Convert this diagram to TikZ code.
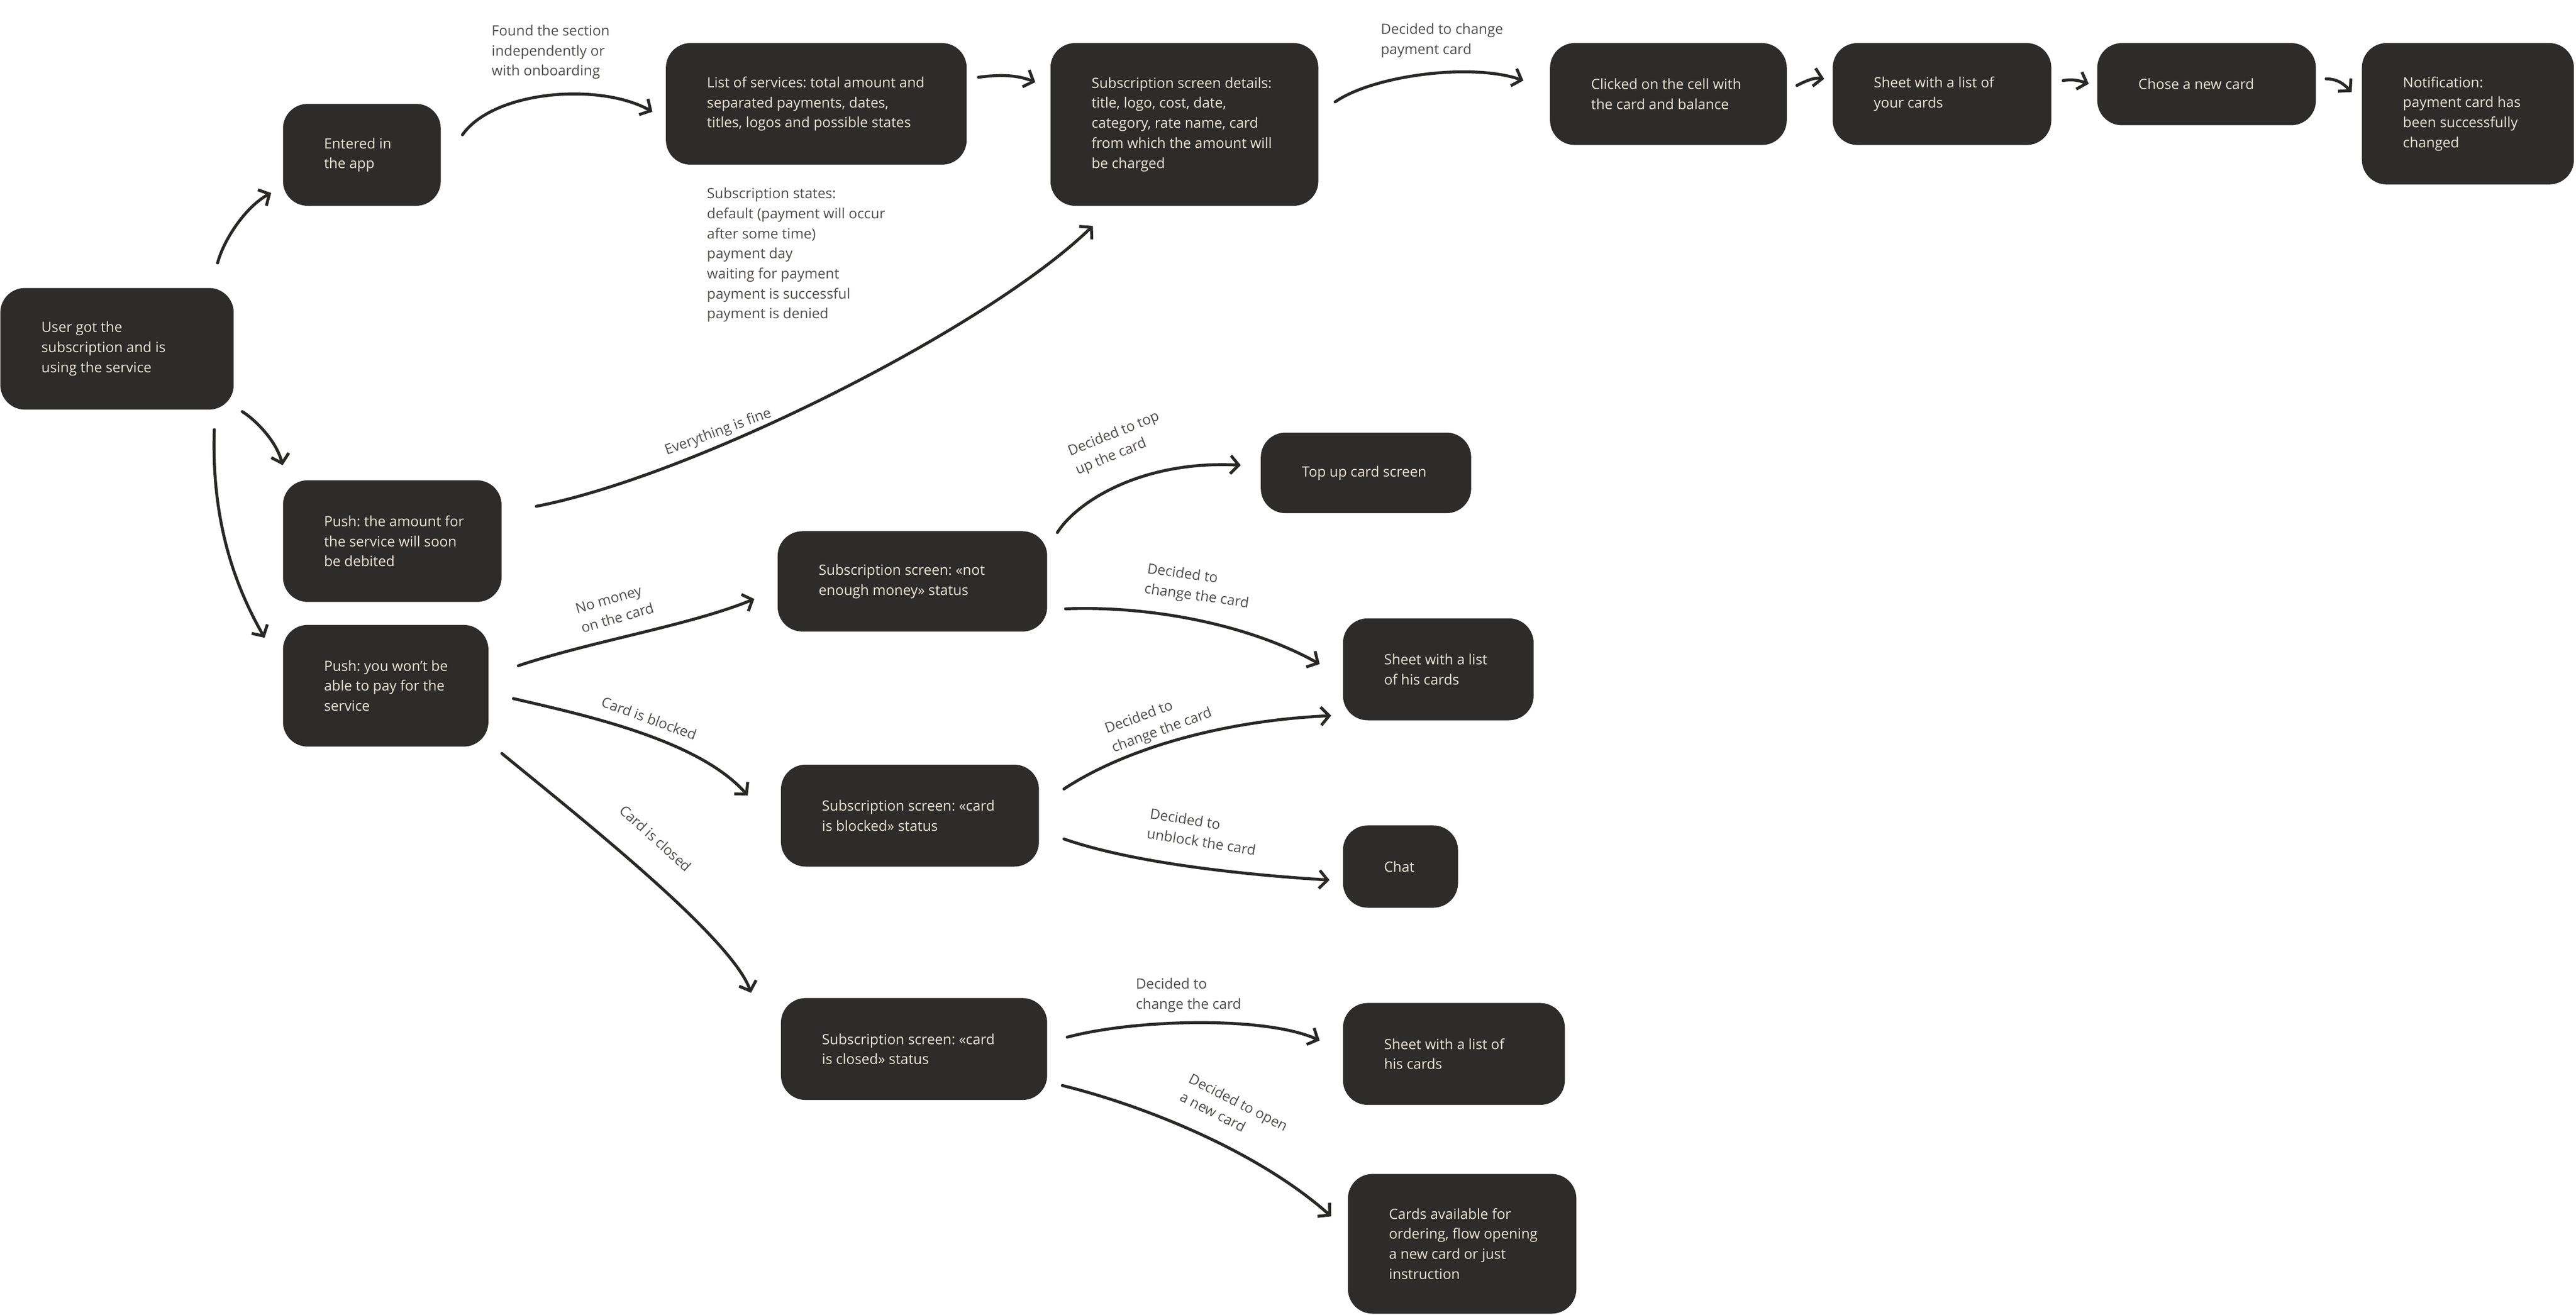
\documentclass[tikz,border=0pt]{standalone}
\usepackage{fontspec}
\setmainfont{Open Sans}
\usetikzlibrary{arrows.meta}
\definecolor{boxc}{HTML}{2E2C2A}
\definecolor{txtc}{HTML}{EEE5D3}
\definecolor{lblc}{HTML}{504E4B}
\definecolor{arrc}{HTML}{2A2826}
\newcommand\bt[2]{\hspace*{25pt}\parbox[c]{\dimexpr#1pt-25pt\relax}{\raggedright #2}}
\begin{document}
\frenchspacing
\begin{tikzpicture}[x=1pt,y=-1pt,
  box/.style={fill=boxc, rounded corners=15pt, text=txtc, font=\fontsize{8.6}{12.2}\selectfont, inner sep=0pt, anchor=north west},
  lbl/.style={text=lblc, font=\fontsize{8.6}{12.2}\selectfont, align=left, inner sep=0pt},
  arr/.style={draw=arrc, line width=1.8pt, line cap=round, -{Straight Barb[length=5pt,width=11pt]}}]
\fill[white] (0,0) rectangle (1567.5,800);
\useasboundingbox (0,0) rectangle (1567.5,800);

% boxes
\node[box, minimum width=142pt, minimum height=74pt] (user) at (0,175) {\bt{142}{User got the\\subscription and is\\using the service}};
\node[box, minimum width=96pt, minimum height=62pt] (enter) at (172,63) {\bt{96}{Entered in\\the app}};
\node[box, minimum width=183pt, minimum height=74pt] (list) at (405,26) {\bt{183}{List of services: total amount and\\separated payments, dates,\\titles, logos and possible states}};
\node[box, minimum width=163pt, minimum height=99pt] (det) at (639,26) {\bt{163}{Subscription screen details:\\title, logo, cost, date,\\category, rate name, card\\from which the amount will\\be charged}};
\node[box, minimum width=144pt, minimum height=62pt] (click) at (943,26) {\bt{144}{Clicked on the cell with\\the card and balance}};
\node[box, minimum width=133pt, minimum height=62pt] (sheet) at (1115,26) {\bt{133}{Sheet with a list of\\your cards}};
\node[box, minimum width=133pt, minimum height=50pt] (chose) at (1276,26) {\bt{133}{Chose a new card}};
\node[box, minimum width=129pt, minimum height=86pt] (notif) at (1437,26) {\bt{129}{Notification:\\payment card has\\been successfully\\changed}};
\node[box, minimum width=133pt, minimum height=74pt] (push1) at (172,292) {\bt{133}{Push: the amount for\\the service will soon\\be debited}};
\node[box, minimum width=125pt, minimum height=74pt] (push2) at (172,380) {\bt{125}{Push: you won’t be\\able to pay for the\\service}};
\node[box, minimum width=164pt, minimum height=61pt] (nomoney) at (473,323) {\bt{164}{Subscription screen: «not\\enough money» status}};
\node[box, minimum width=128pt, minimum height=49pt] (topup) at (767,263) {\bt{128}{Top up card screen}};
\node[box, minimum width=116pt, minimum height=62pt] (sheet1) at (817,376) {\bt{116}{Sheet with a list\\of his cards}};
\node[box, minimum width=157pt, minimum height=62pt] (blocked) at (475,465) {\bt{157}{Subscription screen: «card\\is blocked» status}};
\node[box, minimum width=70pt, minimum height=50pt] (chat) at (817,502) {\bt{70}{Chat}};
\node[box, minimum width=162pt, minimum height=62pt] (closed) at (475,607) {\bt{162}{Subscription screen: «card\\is closed» status}};
\node[box, minimum width=135pt, minimum height=62pt] (sheet2) at (817,610) {\bt{135}{Sheet with a list of\\his cards}};
\node[box, minimum width=139pt, minimum height=85pt] (cards) at (820,714) {\bt{139}{Cards available for\\ordering, flow opening\\a new card or just\\instruction}};

% plain labels
\node[lbl, anchor=north west] (lfound) at (299,15) {Found the section\\independently or\\with onboarding};
\node[lbl, anchor=north west] (lstates) at (430,114) {Subscription states:\\default (payment will occur\\after some time)\\payment day\\waiting for payment\\payment is successful\\payment is denied};
\node[lbl, anchor=north west] (lchange) at (840,14) {Decided to change\\payment card};
\node[lbl, anchor=north west] (lchg3) at (691,595) {Decided to\\change the card};

% rotated labels
\node[lbl, rotate=20] (lfine) at (437,263) {Everything is fine};
\node[lbl, rotate=22] (ltop) at (680,270) {Decided to top\\up the card};
\node[lbl, rotate=16] (lnomoney) at (374,370) {No money\\on the card};
\node[lbl, rotate=-8] (lchg1) at (729,357) {Decided to\\change the card};
\node[lbl, rotate=-20] (lblocked) at (395,437) {Card is blocked};
\node[lbl, rotate=20] (lchg2) at (705,439) {Decided to\\change the card};
\node[lbl, rotate=-42] (lclosed) at (399,510) {Card is closed};
\node[lbl, rotate=-9] (lunblock) at (732,506) {Decided to\\unblock the card};
\node[lbl, rotate=-27] (lopen) at (751,676) {Decided to open\\a new card};

% connectors
\draw[arr] ([shift={(-10,-15)}]user.north east) .. controls +(4,-15) and +(-15,8) .. ([shift={(-7,-8)}]enter.south west);
\draw[arr] ([shift={(13,19)}]enter.north east) .. controls +(19,-27) and +(-32,-18) .. ([shift={(-8,42)}]list.north west);
\draw[arr] ([shift={(7,21)}]list.north east) .. controls +(15,-2) and +(-10,-4) .. ([shift={(-9,24)}]det.north west);
\draw[arr] ([shift={(10,36)}]det.north east) .. controls +(23,-16) and +(-32,-11) .. ([shift={(-16,23)}]click.north west);
\draw[arr] ([shift={(6,26)}]click.north east) .. controls +(6,-3) and +(-6,-1) .. ([shift={(-5,22)}]sheet.north west);
\draw[arr] ([shift={(7,23)}]sheet.north east) .. controls +(6,-1) and +(-6,-2) .. ([shift={(-5,25)}]chose.north west);
\draw[arr] ([shift={(6,22)}]chose.north east) .. controls +(7,0) and +(-5,-5) .. ([shift={(-6,30)}]notif.north west);
\draw[arr] ([shift={(5,1)}]user.south east) .. controls +(8,5) and +(-4,-15) .. ([shift={(0,-9)}]push1.north west);
\draw[arr] ([shift={(-12,12)}]user.south east) .. controls +(-2,59) and +(-16,-28) .. ([shift={(-11,8)}]push2.north west);
\draw[arr] ([shift={(21,16)}]push1.north east) .. controls +(94,-18) and +(-65,63) .. ([shift={(26,12)}]det.south west);
\draw[arr] ([shift={(18,25)}]push2.north east) .. controls +(45,-15) and +(-39,16) .. ([shift={(-14,-20)}]nomoney.south west);
\draw[arr] ([shift={(15,45)}]push2.north east) .. controls +(43,10) and +(-30,-34) .. ([shift={(-20,19)}]blocked.north west);
\draw[arr] ([shift={(8,4)}]push2.south east) .. controls +(45,37) and +(-12,-34) .. ([shift={(-18,-3)}]closed.north west);
\draw[arr] ([shift={(6,1)}]nomoney.north east) .. controls +(12,-19) and +(-60,-3) .. ([shift={(-12,20)}]topup.north west);
\draw[arr] ([shift={(11,-14)}]nomoney.south east) .. controls +(52,-2) and +(-43,-24) .. ([shift={(-14,28)}]sheet1.north west);
\draw[arr] ([shift={(15,15)}]blocked.north east) .. controls +(38,-25) and +(-65,3) .. ([shift={(-7,-3)}]sheet1.south west);
\draw[arr] ([shift={(15,-17)}]blocked.south east) .. controls +(43,15) and +(-49,-3) .. ([shift={(-8,-17)}]chat.south west);
\draw[arr] ([shift={(12,24)}]closed.north east) .. controls +(41,-11) and +(-33,-15) .. ([shift={(-14,23)}]sheet2.north west);
\draw[arr] ([shift={(9,-9)}]closed.south east) .. controls +(49,12) and +(-45,-40) .. ([shift={(-10,26)}]cards.north west);
\end{tikzpicture}
\end{document}
